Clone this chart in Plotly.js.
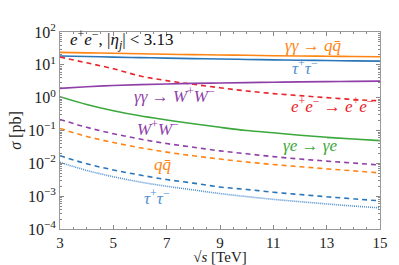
<!DOCTYPE html>
<html><head><meta charset="utf-8">
<script src="https://cdn.plot.ly/plotly-3.0.1.min.js"></script>
<style>html,body{margin:0;padding:0;background:#fff;}#chart{width:399px;height:265px;}</style>
</head><body><div id="chart"></div>
<script>
// sqrt(s) in TeV
const sqrtS = [3, 4, 5, 6, 7, 8, 9, 10, 11, 12, 13, 14, 15];
// cross sections in pb
const aaToQQ   = [24, 23.2, 22.5, 21.7, 21, 20.5, 20, 19.5, 19, 18.6, 18.3, 18, 17.7];
const aaToTauTau = [18.6, 17.9, 17.2, 16.6, 16, 15.5, 15, 14.6, 14.2, 13.8, 13.5, 13.2, 13];
const eeToEE   = [17.3, 11.5, 7.6, 4.6, 3.3, 2.55, 2.0, 1.6, 1.33, 1.15, 1.0, 0.88, 0.8];
const aaToWW   = [1.92, 2.15, 2.35, 2.5, 2.62, 2.72, 2.8, 2.88, 2.95, 3.02, 3.08, 3.14, 3.2];
const aeToAE   = [1.07, 0.62, 0.40, 0.28, 0.21, 0.16, 0.125, 0.10, 0.085, 0.072, 0.062, 0.055, 0.049];
const eeToWW   = [0.218, 0.125, 0.08, 0.055, 0.04, 0.031, 0.024, 0.0195, 0.016, 0.0135, 0.0117, 0.0102, 0.0089];
const eeToQQ   = [0.115, 0.066, 0.043, 0.030, 0.022, 0.017, 0.0135, 0.011, 0.0092, 0.0079, 0.0068, 0.0059, 0.0051];
const eeToTauTau = [0.017, 0.0097, 0.0063, 0.0044, 0.0032, 0.0025, 0.0019, 0.0016, 0.00132, 0.00112, 0.00096, 0.00083, 0.00072];
const eeToTauTauB = [0.0107, 0.0061, 0.0039, 0.0027, 0.002, 0.00155, 0.0012, 0.00097, 0.0008, 0.00068, 0.00058, 0.0005, 0.00044];
const xTicks = [3, 5, 7, 9, 11, 13, 15];
const yTickVals = [1e-4, 1e-3, 1e-2, 1e-1, 1, 10, 100];
const yTickText = ['10<sup>−4</sup>', '10<sup>−3</sup>', '10<sup>−2</sup>', '10<sup>−1</sup>', '10<sup>0</sup>', '10<sup>1</sup>', '10<sup>2</sup>'];

const C = {orange:'#ff8413', blue:'#2a76b8', red:'#e8242a', purple:'#8f3fa8', green:'#3aa83a', lblue:'#4f8fd0'};

function tr(y, color, dash, width) {
  return {x: sqrtS, y: y, type:'scatter', mode:'lines',
    line:{color:color, dash:dash||'solid', width:width||1.6, shape:'spline'}, hoverinfo:'skip'};
}
const data = [
  tr(aaToQQ, C.orange),
  tr(aaToTauTau, C.blue),
  tr(eeToEE, C.red, '5px,4px'),
  tr(aaToWW, C.purple),
  tr(aeToAE, C.green),
  tr(eeToWW, C.purple, '5px,4px'),
  tr(eeToQQ, C.orange, '5px,4px'),
  tr(eeToTauTau, C.blue, '5px,4px'),
  tr(eeToTauTauB, C.lblue, '1px,1px', 1.6)
];

const F = 'Liberation Serif';
function ann(x, ly, text, color, size, anchor) {
  return {x:x, y:ly, xref:'x', yref:'y', text:text, showarrow:false,
    xanchor:anchor||'center', yanchor:'middle', font:{family:F, size:size||17, color:color}};
}
const annotations = [
  ann(3.3, 1.76, '<i>e</i><sup>+</sup><i>e</i><sup>−</sup>, |<i>η<sub>j</sub></i>| &lt; 3.13', '#111', 17, 'left'),
  ann(12.5, 1.6, '<i>γγ</i> → <i>q</i><i>q̄</i>', C.orange),
  ann(12.2, 0.93, '<i>τ</i><sup>+</sup><i>τ</i><sup>−</sup>', C.lblue),
  ann(7.3, 0.08, '<i>γγ</i> → <i>W</i><sup>+</sup><i>W</i><sup>−</sup>', C.purple),
  ann(13.2, -0.23, '<i>e</i><sup>+</sup><i>e</i><sup>−</sup> → <i>e</i><sup>+</sup><i>e</i><sup>−</sup>', C.red),
  ann(6.67, -0.93, '<i>W</i><sup>+</sup><i>W</i><sup>−</sup>', C.purple),
  ann(12.37, -1.45, '<i>γe</i> → <i>γe</i>', C.green),
  ann(6.86, -2.05, '<i>q</i><i>q̄</i>', C.orange),
  ann(6.64, -3.03, '<i>τ</i><sup>+</sup><i>τ</i><sup>−</sup>', C.lblue)
];

const layout = {
  width:399, height:265,
  margin:{l:60, r:19, t:32, b:36},
  paper_bgcolor:'#fff', plot_bgcolor:'#fff',
  showlegend:false,
  font:{family:F, size:16, color:'#222'},
  xaxis:{range:[3,15], tickvals:xTicks, ticktext:xTicks.map(String),
    ticks:'inside', ticklen:4, tickcolor:'#888', mirror:'allticks',
    showline:true, linecolor:'#999', linewidth:1, showgrid:false, zeroline:false,
    minor:{dtick:0.5, ticks:'inside', ticklen:2, tickcolor:'#888', showgrid:false},
    tickfont:{family:F, size:15, color:'#222'},
    title:{text:'√<i>s</i> [TeV]', font:{family:F, size:15, color:'#222'}, standoff:2}},
  yaxis:{type:'log', range:[-4,2], tickvals:yTickVals, ticktext:yTickText,
    ticks:'inside', ticklen:4, tickcolor:'#888', mirror:'allticks',
    showline:true, linecolor:'#999', linewidth:1, showgrid:false, zeroline:false,
    minor:{dtick:'D1', ticks:'inside', ticklen:2, tickcolor:'#888', showgrid:false},
    tickfont:{family:F, size:16, color:'#222'},
    title:{text:'<i>σ</i> [pb]', font:{family:F, size:16, color:'#222'}, standoff:2}},
  annotations:annotations
};
Plotly.newPlot('chart', data, layout, {staticPlot:true, displayModeBar:false});
</script></body></html>
